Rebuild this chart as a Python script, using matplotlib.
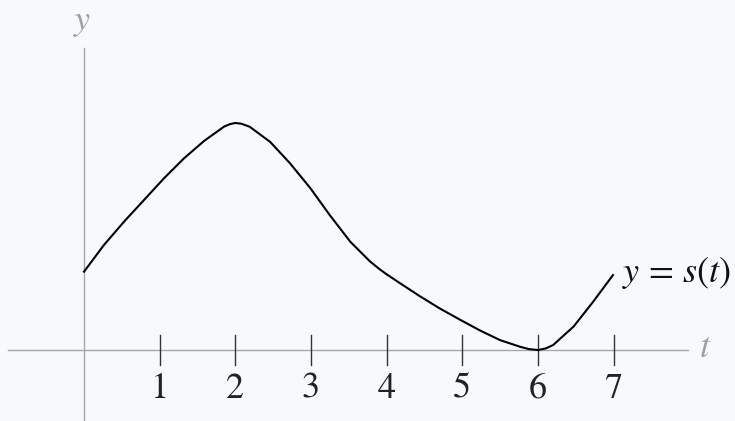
import matplotlib.pyplot as plt

plt.rcParams['mathtext.fontset'] = 'stix'
plt.rcParams['font.family'] = 'STIXGeneral'

t = [0, 0.264, 0.529, 0.793, 1.057, 1.322, 1.586, 1.85, 1.93, 2.0, 2.08, 2.19, 2.46,
     2.72, 2.99, 3.25, 3.52, 3.78, 3.91, 4.0, 4.18, 4.44, 4.70, 4.97, 5.23, 5.50,
     5.76, 5.88, 6.0, 6.1, 6.20, 6.47, 6.73, 6.99]
s = [1.035, 1.388, 1.696, 1.982, 2.269, 2.533, 2.762, 2.951, 2.985, 3.0, 2.99, 2.95, 2.75,
     2.47, 2.14, 1.78, 1.43, 1.17, 1.065, 1.0, 0.88, 0.71, 0.55, 0.40, 0.26, 0.13,
     0.044, 0.012, 0.0, 0.02, 0.066, 0.31, 0.64, 0.99]
ticks = [1, 2, 3, 4, 5, 6, 7]

bg = '#f7fafc'
axisColor = '#a6a6a6'
labelColor = '#a0a0a0'

fig = plt.figure(figsize=(7.35, 4.21), dpi=100, facecolor=bg)
ax = fig.add_axes([0, 0, 1, 1])
ax.set_facecolor(bg)
ax.set_xlim(-1.110, 8.603)
ax.set_ylim(-0.938, 4.625)
ax.axis('off')

# axes
ax.plot([-1.0, 7.98], [0, 0], color=axisColor, lw=1.0)
ax.plot([0, 0], [-0.94, 3.99], color=axisColor, lw=1.0)
ax.text(8.21, 0.02, '$t$', color=labelColor, fontsize=26, ha='center', va='center')
ax.text(-0.02, 4.33, '$y$', color=labelColor, fontsize=26, ha='center', va='center')

# tick marks
for x in ticks:
    ax.plot([x, x], [-0.2, 0.2], color='#333333', lw=1.0)
    ax.text(x, -0.52, str(x), fontsize=26, ha='center', va='center', color='#222222')

ax.plot(t, s, color='black', lw=1.5, solid_joinstyle='round')
ax.text(7.11, 1.02, r'$y \,=\, s(t)$', fontsize=26, ha='left', va='center', color='#111111')

fig.savefig('out.png', dpi=100, facecolor=bg)
